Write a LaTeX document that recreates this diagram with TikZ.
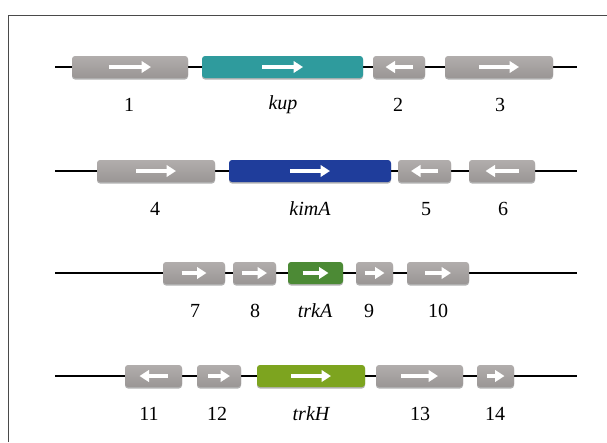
\documentclass[tikz,border=0pt]{standalone}
\usepackage{fontspec}
\setmainfont{Liberation Serif}
\usetikzlibrary{arrows.meta,shadows}
\definecolor{framec}{HTML}{4A4A4A}
\definecolor{grayT}{HTML}{B1ADAC}
\definecolor{grayB}{HTML}{9A9695}
\definecolor{kupc}{HTML}{2F9B9D}
\definecolor{kimc}{HTML}{1F3D9B}
\definecolor{trkac}{HTML}{4C8A35}
\definecolor{trkhc}{HTML}{7DA41F}
\tikzset{
  genebox/.style={rectangle, rounded corners=3pt, minimum height=22pt, inner sep=0pt, outer sep=0pt,
    drop shadow={shadow xshift=0pt, shadow yshift=-1.5pt, opacity=0.3, fill=black}},
  graygene/.style={genebox, top color=grayT, bottom color=grayB},
  backbone/.style={line width=2.2pt, black},
  garrow/.style={white, line width=3.8pt, -{Triangle[length=9.5pt,width=11.5pt]}},
  lab/.style={font=\fontsize{20}{23}\selectfont, inner sep=0pt, anchor=center},
}
% #1 name, #2 x1, #3 x2, #4 y, #5 style, #6 dir (1 right, -1 left), #7 arrow length, #8 label, #9 label x
\newcommand\gene[9]{%
  \node[#5, minimum width={(#3-#2)*1pt}] (#1) at ({(#2+#3)/2},#4) {};
  \draw[garrow] ([xshift={-#6*#7/2*1pt}]#1.center) -- ([xshift={#6*#7/2*1pt}]#1.center);
  \node[lab] (#1-l) at (#9,{#4+38}) {#8};
}
\begin{document}
\begin{tikzpicture}[x=1pt,y=-1pt]
\useasboundingbox (0,0) rectangle (607,442);
\fill[white] (0,0) rectangle (607,442);
\draw[framec, line width=1pt] (8.5,442) -- (8.5,15.5) -- (607,15.5);
% row 1
\coordinate (r1s) at (55,67); \coordinate (r1e) at (577,67);
\draw[backbone] (r1s) -- (r1e);
\gene{g1}{72}{188}{67}{graygene}{1}{42}{1}{129}
\gene{kup}{202}{363}{67}{genebox, fill=kupc}{1}{41}{\itshape kup}{283}
\gene{g2}{373}{425}{67}{graygene}{-1}{27}{2}{398}
\gene{g3}{445}{553}{67}{graygene}{1}{40}{3}{500}
% row 2
\coordinate (r2s) at (55,171); \coordinate (r2e) at (577,171);
\draw[backbone] (r2s) -- (r2e);
\gene{g4}{97}{215}{171}{graygene}{1}{40}{4}{155}
\gene{kimA}{229}{391}{171}{genebox, fill=kimc}{1}{40}{\itshape kimA}{310}
\gene{g5}{398}{451}{171}{graygene}{-1}{27}{5}{426}
\gene{g6}{469}{535}{171}{graygene}{-1}{33}{6}{503}
% row 3
\coordinate (r3s) at (55,273); \coordinate (r3e) at (577,273);
\draw[backbone] (r3s) -- (r3e);
\gene{g7}{163}{225}{273}{graygene}{1}{25}{7}{195}
\gene{g8}{233}{276}{273}{graygene}{1}{25}{8}{255}
\gene{trkA}{288}{343}{273}{genebox, fill=trkac}{1}{26}{\itshape trkA}{315}
\gene{g9}{356}{393}{273}{graygene}{1}{20}{9}{369}
\gene{g10}{407}{469}{273}{graygene}{1}{26}{10}{438}
% row 4
\coordinate (r4s) at (55,376); \coordinate (r4e) at (577,376);
\draw[backbone] (r4s) -- (r4e);
\gene{g11}{125}{182}{376}{graygene}{-1}{28}{11}{149}
\gene{g12}{197}{241}{376}{graygene}{1}{22}{12}{217}
\gene{trkH}{257}{365}{376}{genebox, fill=trkhc}{1}{40}{\itshape trkH}{311}
\gene{g13}{376}{463}{376}{graygene}{1}{37}{13}{420}
\gene{g14}{477}{514}{376}{graygene}{1}{18}{14}{495}
\end{tikzpicture}
\end{document}
